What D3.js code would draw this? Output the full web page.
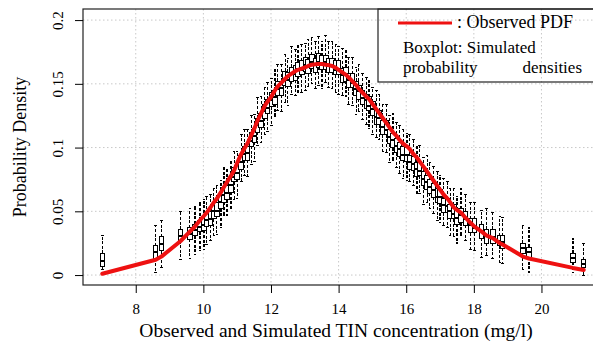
<!DOCTYPE html>
<html>
<head>
<meta charset="utf-8">
<script src="https://cdn.jsdelivr.net/npm/d3@7"></script>
<style>
  body { margin: 0; background: #fff; }
  text { font-family: "Liberation Serif", "Times New Roman", serif; fill: #000; }
</style>
</head>
<body>
<svg id="chart" width="593" height="350"></svg>
<script>
// observed TIN concentrations (mg/l) and the observed PDF at each of them
const obsX = [
  7.01, 8.59, 8.76, 9.32, 9.60, 9.75, 9.90, 10.02, 10.10,
  10.21, 10.31, 10.40, 10.52, 10.61, 10.70, 10.82, 10.91, 11.00, 11.12,
  11.21, 11.30, 11.42, 11.51, 11.60, 11.71, 11.82, 11.90, 12.01, 12.12,
  12.20, 12.31, 12.42, 12.50, 12.61, 12.72, 12.80, 12.91, 13.02, 13.10,
  13.21, 13.32, 13.40, 13.51, 13.62, 13.70, 13.81, 13.92, 14.00, 14.11,
  14.22, 14.30, 14.41, 14.52, 14.60, 14.71, 14.82, 14.90, 15.01, 15.12,
  15.20, 15.31, 15.42, 15.50, 15.61, 15.72, 15.80, 15.91, 16.02, 16.10,
  16.21, 16.32, 16.40, 16.51, 16.62, 16.70, 16.81, 16.92, 17.00, 17.11,
  17.22, 17.30, 17.41, 17.50,
  17.62, 17.75, 17.90, 18.02, 18.23, 18.38, 18.56, 18.77, 18.85, 19.45, 19.63, 20.93, 21.25
];
const obsPdf = [
  0.001, 0.012, 0.0145, 0.0265, 0.034, 0.038, 0.043, 0.0465, 0.049,
  0.053, 0.057, 0.060, 0.065, 0.069, 0.073, 0.078, 0.082, 0.088, 0.095,
  0.099, 0.103, 0.110, 0.115, 0.121, 0.127, 0.133, 0.136, 0.140, 0.145,
  0.148, 0.151, 0.154, 0.156, 0.158, 0.160, 0.161, 0.162, 0.163, 0.164,
  0.165, 0.1653, 0.1655, 0.1655, 0.165, 0.1647, 0.164, 0.1625, 0.161, 0.159,
  0.157, 0.155, 0.152, 0.149, 0.146, 0.143, 0.140, 0.138, 0.134, 0.130,
  0.127, 0.123, 0.119, 0.116, 0.112, 0.109, 0.106, 0.103, 0.101, 0.099,
  0.095, 0.092, 0.089, 0.085, 0.081, 0.078, 0.074, 0.070, 0.067, 0.063,
  0.060, 0.057, 0.053, 0.051,
  0.049, 0.045, 0.041, 0.038, 0.034, 0.031, 0.029, 0.025, 0.024, 0.0145, 0.013, 0.0056, 0.004
];

// simulated densities: boxplot stats at each observed concentration
const boxLo = [
  .004,.002,.006,.012,.013,.016,.019,.020,.024,
  .027,.031,.032,.037,.047,.047,.052,.059,.060,.073,
  .078,.077,.087,.089,.102,.104,.110,.113,.117,.124,
  .129,.128,.135,.133,.142,.141,.143,.143,.145,.148,
  .150,.146,.149,.146,.151,.147,.146,.143,.142,.141,
  .140,.134,.133,.126,.128,.122,.118,.115,.110,.108,
  .106,.097,.096,.088,.090,.084,.080,.076,.074,.073,
  .070,.064,.064,.055,.057,.052,.048,.043,.041,.039,
  .037,.031,.030,.025,
  .031,.027,.020,.019,.014,.015,.013,.010,.009,.004,.002,.002,.000
];
const boxQ1 = [
  .007,.013,.019,.027,.028,.031,.034,.035,.038,
  .039,.044,.046,.052,.057,.059,.065,.073,.075,.083,
  .090,.090,.101,.104,.112,.116,.123,.127,.132,.134,
  .141,.141,.149,.148,.152,.153,.156,.157,.160,.158,
  .162,.159,.163,.161,.161,.159,.159,.157,.157,.151,
  .152,.147,.147,.141,.138,.134,.131,.129,.125,.118,
  .118,.110,.110,.103,.100,.096,.093,.090,.089,.083,
  .082,.077,.078,.070,.067,.064,.061,.057,.056,.049,
  .049,.044,.044,.040,
  .041,.039,.033,.033,.029,.025,.025,.023,.021,.017,.014,.010,.006
];
const boxMed = [
  .011,.018,.024,.031,.032,.035,.038,.039,.043,
  .044,.050,.050,.057,.063,.064,.071,.077,.080,.089,
  .095,.096,.105,.109,.118,.121,.129,.131,.137,.140,
  .146,.147,.153,.153,.158,.158,.162,.161,.165,.164,
  .167,.165,.167,.166,.167,.164,.165,.161,.162,.157,
  .157,.153,.151,.146,.144,.139,.137,.133,.130,.124,
  .123,.116,.114,.108,.106,.101,.099,.094,.094,.089,
  .087,.083,.082,.075,.073,.069,.067,.061,.061,.055,
  .054,.050,.048,.045,
  .047,.044,.039,.037,.034,.031,.030,.027,.026,.021,.018,.013,.009
];
const boxQ3 = [
  .017,.023,.030,.036,.037,.040,.043,.045,.048,
  .050,.055,.057,.063,.068,.070,.076,.084,.086,.094,
  .101,.101,.112,.115,.123,.127,.134,.138,.143,.145,
  .152,.152,.160,.159,.163,.164,.167,.168,.171,.169,
  .173,.170,.174,.172,.172,.170,.170,.168,.168,.162,
  .163,.158,.158,.152,.149,.145,.142,.140,.136,.129,
  .129,.121,.121,.114,.111,.107,.104,.101,.100,.094,
  .093,.088,.089,.081,.078,.075,.072,.068,.067,.060,
  .060,.055,.055,.051,
  .052,.050,.044,.044,.040,.036,.036,.031,.031,.025,.022,.017,.012
];
const boxHi = [
  .031,.039,.043,.050,.052,.054,.057,.059,.062,
  .063,.068,.070,.074,.084,.083,.089,.097,.097,.110,
  .114,.114,.125,.126,.139,.140,.147,.151,.154,.161,
  .165,.165,.173,.170,.179,.177,.180,.181,.182,.185,
  .186,.183,.187,.183,.188,.183,.183,.181,.179,.178,
  .176,.171,.171,.163,.165,.158,.155,.153,.147,.145,
  .142,.134,.134,.125,.127,.120,.117,.114,.111,.110,
  .106,.101,.102,.092,.094,.088,.085,.081,.078,.076,
  .073,.068,.068,.062,
  .068,.063,.057,.057,.051,.052,.049,.046,.045,.039,.037,.029,.025
];

const xTicks = [8, 10, 12, 14, 16, 18, 20];
const yTicks = [0, 0.05, 0.1, 0.15, 0.2];
const yTickLabels = ["0", "0.05", "0.1", "0.15", "0.2"];

const svg = d3.select("#chart");
const plotL = 83, plotR = 603, plotT = 9, plotB = 285;

const x = d3.scaleLinear().domain([6.44, 21.82]).range([plotL, plotR]);
const y = d3.scaleLinear().domain([-0.0078, 0.2087]).range([plotB, plotT]);

// grid
svg.append("g").selectAll("line").data(xTicks).enter().append("line")
  .attr("x1", d => x(d)).attr("x2", d => x(d))
  .attr("y1", plotT).attr("y2", plotB)
  .attr("stroke", "#c8c8c8").attr("stroke-dasharray", "1.5,2.5");
svg.append("g").selectAll("line").data(yTicks).enter().append("line")
  .attr("x1", plotL).attr("x2", plotR)
  .attr("y1", d => y(d)).attr("y2", d => y(d))
  .attr("stroke", "#c8c8c8").attr("stroke-dasharray", "1.5,2.5");

// boxplots
const boxW = 4.5, stapleW = 2.6;
const boxes = svg.append("g").attr("shape-rendering", "crispEdges")
  .selectAll("g").data(obsX).enter().append("g");
boxes.append("line")
  .attr("x1", d => x(d)).attr("x2", d => x(d))
  .attr("y1", (d, i) => y(boxQ3[i])).attr("y2", (d, i) => y(boxHi[i]))
  .attr("stroke", "#000").attr("stroke-width", 1.2).attr("stroke-dasharray", "3,1.6");
boxes.append("line")
  .attr("x1", d => x(d)).attr("x2", d => x(d))
  .attr("y1", (d, i) => y(boxQ1[i])).attr("y2", (d, i) => y(boxLo[i]))
  .attr("stroke", "#000").attr("stroke-width", 1.2).attr("stroke-dasharray", "3,1.6");
boxes.append("line")
  .attr("x1", d => x(d) - stapleW / 2).attr("x2", d => x(d) + stapleW / 2)
  .attr("y1", (d, i) => y(boxHi[i])).attr("y2", (d, i) => y(boxHi[i]))
  .attr("stroke", "#000").attr("stroke-width", 1);
boxes.append("line")
  .attr("x1", d => x(d) - stapleW / 2).attr("x2", d => x(d) + stapleW / 2)
  .attr("y1", (d, i) => y(boxLo[i])).attr("y2", (d, i) => y(boxLo[i]))
  .attr("stroke", "#000").attr("stroke-width", 1);
boxes.append("rect")
  .attr("x", d => x(d) - boxW / 2).attr("width", boxW)
  .attr("y", (d, i) => y(boxQ3[i]))
  .attr("height", (d, i) => y(boxQ1[i]) - y(boxQ3[i]))
  .attr("fill", "#fff").attr("stroke", "#000").attr("stroke-width", 1);
boxes.append("line")
  .attr("x1", d => x(d) - boxW / 2).attr("x2", d => x(d) + boxW / 2)
  .attr("y1", (d, i) => y(boxMed[i])).attr("y2", (d, i) => y(boxMed[i]))
  .attr("stroke", "#000").attr("stroke-width", 2);

// observed PDF
const line = d3.line().x(d => x(d[0])).y(d => y(d[1]));
svg.append("path")
  .datum(obsX.map((d, i) => [d, obsPdf[i]]))
  .attr("d", line)
  .attr("fill", "none").attr("stroke", "#ee1111").attr("stroke-width", 4)
  .attr("stroke-linejoin", "round").attr("stroke-linecap", "round");

// frame
svg.append("rect").attr("x", plotL).attr("y", plotT)
  .attr("width", plotR - plotL).attr("height", plotB - plotT)
  .attr("fill", "none").attr("stroke", "#222").attr("stroke-width", 1.2);

// axes
const xAxis = svg.append("g").attr("transform", `translate(0,${plotB})`)
  .call(d3.axisBottom(x).tickValues(xTicks).tickSize(8).tickFormat(d3.format("d")));
xAxis.select(".domain").remove();
xAxis.selectAll("text").attr("font-size", 15).attr("font-family", "Liberation Serif")
  .attr("dy", null).attr("y", 29);

const yAxis = svg.append("g").attr("transform", `translate(${plotL},0)`)
  .call(d3.axisLeft(y).tickValues(yTicks).tickSize(8).tickFormat((d, i) => yTickLabels[i]));
yAxis.select(".domain").remove();
yAxis.selectAll("text")
  .attr("font-size", 15).attr("font-family", "Liberation Serif")
  .attr("x", null).attr("dy", null).attr("y", null)
  .attr("text-anchor", "middle")
  .attr("transform", `translate(${63 - plotL},0) rotate(-90)`);

// titles
svg.append("text").attr("x", 336).attr("y", 337).attr("text-anchor", "middle")
  .attr("font-size", 19.5).text("Observed and Simulated TIN concentration (mg/l)");
svg.append("text").attr("transform", "translate(26,147) rotate(-90)").attr("text-anchor", "middle")
  .attr("font-size", 18).text("Probability Density");

// legend
const lg = svg.append("g");
lg.append("rect").attr("x", 378).attr("y", plotT).attr("width", 240).attr("height", 73)
  .attr("fill", "none").attr("stroke", "#222").attr("stroke-width", 1.2);
lg.append("line").attr("x1", 398).attr("x2", 452).attr("y1", 23).attr("y2", 23)
  .attr("stroke", "#ee1111").attr("stroke-width", 2.8);
lg.append("text").attr("x", 457).attr("y", 28).attr("font-size", 18).text(": Observed PDF");
lg.append("text").attr("x", 403).attr("y", 53).attr("font-size", 17).text("Boxplot: Simulated");
lg.append("text").attr("x", 403).attr("y", 73).attr("font-size", 17).text("probability");
lg.append("text").attr("x", 582).attr("y", 73).attr("text-anchor", "end").attr("font-size", 17).text("densities");
</script>
</body>
</html>
